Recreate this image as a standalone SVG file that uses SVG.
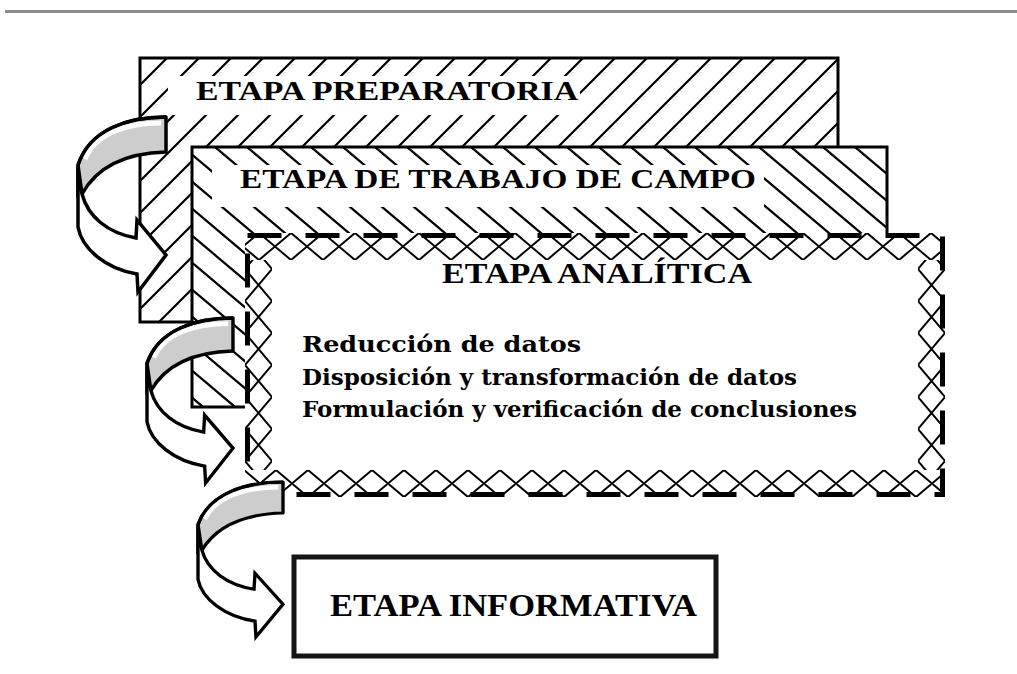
<svg xmlns="http://www.w3.org/2000/svg" width="1017" height="674" viewBox="0 0 1017 674">
<style>
  .hdr{font-family:"Liberation Serif","DejaVu Serif",serif;font-weight:bold;fill:#000}
  .body{font-family:"DejaVu Serif","Liberation Serif",serif;font-weight:bold;font-size:22px;fill:#000}
  .edge{fill:none;stroke:#000;stroke-width:3}
  .hl{stroke:#000;stroke-width:2.2;fill:none}
  .dm{stroke:#000;stroke-width:2;fill:none}
  .arrow-back{fill:#cdcdcd;stroke:#000;stroke-width:3.5;stroke-linejoin:round}
  .arrow-front{fill:#fff;stroke:#000;stroke-width:3.5;stroke-linejoin:miter}
</style>
<defs>
  <pattern id="hatch1" patternUnits="userSpaceOnUse" x="7" y="58" width="32" height="32">
    <path class="hl" d="M-4,36 L36,-4 M-4,4 L4,-4 M28,36 L36,28"/>
  </pattern>
  <pattern id="hatch2" patternUnits="userSpaceOnUse" x="23" y="147" width="32" height="27">
    <path class="hl" d="M-4,-3.375 L36,30.375 M-4,23.625 L4,30.375 M28,-3.375 L36,3.375"/>
  </pattern>
  <pattern id="dmT" patternUnits="userSpaceOnUse" x="19" y="233" width="32" height="27">
    <path class="dm" d="M-4,16.875 L20,-3.375 M12,30.375 L36,10.125 M-4,10.125 L20,30.375 M12,-3.375 L36,16.875"/>
  </pattern>
  <pattern id="dmB" patternUnits="userSpaceOnUse" x="4" y="470" width="32" height="27">
    <path class="dm" d="M-4,16.875 L20,-3.375 M12,30.375 L36,10.125 M-4,10.125 L20,30.375 M12,-3.375 L36,16.875"/>
  </pattern>
  <pattern id="dmL" patternUnits="userSpaceOnUse" x="245" y="29" width="27" height="32">
    <path class="dm" d="M16.875,-4 L-3.375,20 M30.375,12 L10.125,36 M10.125,-4 L30.375,20 M-3.375,12 L16.875,36"/>
  </pattern>
  <pattern id="dmR" patternUnits="userSpaceOnUse" x="918" y="29" width="27" height="32">
    <path class="dm" d="M16.875,-4 L-3.375,20 M30.375,12 L10.125,36 M10.125,-4 L30.375,20 M-3.375,12 L16.875,36"/>
  </pattern>
  <g id="curvedArrow">
    <path class="arrow-back" d="M88,0 C50,0 12,12 0,48 L0,80 L4,77 C20,48 50,36 88,35 Z"/>
    <path d="M83,6 C50,6 18,16 7,42" fill="none" stroke="#fff" stroke-width="5"/>
    <path d="M88,0 C50,0 12,12 0,48" fill="none" stroke="#000" stroke-width="3.5"/>
    <path class="arrow-front" d="M0,48 L0,110 C4,132 28,152 59,157 L60,175 L88,138 L59,103 L58,121 C30,116 10,100 4,77 Z"/>
  </g>
</defs>

<line x1="5" y1="11.5" x2="1017" y2="11.5" stroke="#8c8c8c" stroke-width="3"/>

<g id="node-preparatoria">
  <rect x="140" y="58" width="698" height="264" fill="#fff"/>
  <rect x="140" y="58" width="698" height="264" fill="url(#hatch1)"/>
  <rect x="168" y="76" width="412" height="39" fill="#fff"/>
  <rect class="edge" x="140" y="58" width="698" height="264"/>
  <text class="hdr" x="196" y="100" font-size="28" textLength="382" lengthAdjust="spacingAndGlyphs">ETAPA PREPARATORIA</text>
</g>

<g id="node-campo">
  <rect x="192" y="147" width="695" height="260" fill="#fff"/>
  <rect x="192" y="147" width="695" height="260" fill="url(#hatch2)"/>
  <rect x="212" y="165" width="552" height="42" fill="#fff"/>
  <rect class="edge" x="192" y="147" width="695" height="260"/>
  <text class="hdr" x="240" y="188" font-size="27" textLength="516" lengthAdjust="spacingAndGlyphs">ETAPA DE TRABAJO DE CAMPO</text>
</g>

<g id="node-analitica">
  <rect x="245" y="233" width="700" height="264" fill="#fff"/>
  <rect x="245" y="233" width="700" height="27" fill="url(#dmT)"/>
  <rect x="245" y="470" width="700" height="27" fill="url(#dmB)"/>
  <rect x="245" y="260" width="27" height="210" fill="url(#dmL)"/>
  <rect x="918" y="260" width="27" height="210" fill="url(#dmR)"/>
  <rect x="247.5" y="235.5" width="695" height="259" fill="none" stroke="#000" stroke-width="5" stroke-dasharray="34 24"/>
  <text class="hdr" x="442" y="283" font-size="30" textLength="310" lengthAdjust="spacingAndGlyphs">ETAPA ANALÍTICA</text>
  <text class="body" x="302" y="352" textLength="279" lengthAdjust="spacingAndGlyphs">Reducción de datos</text>
  <text class="body" x="302" y="385" textLength="495" lengthAdjust="spacingAndGlyphs">Disposición y transformación de datos</text>
  <text class="body" x="302" y="417" textLength="555" lengthAdjust="spacingAndGlyphs">Formulación y verificación de conclusiones</text>
</g>

<g id="node-informativa">
  <rect x="294" y="557" width="422" height="99" fill="#fff" stroke="#151515" stroke-width="5"/>
  <text class="hdr" x="330" y="616" font-size="31" textLength="367" lengthAdjust="spacingAndGlyphs">ETAPA INFORMATIVA</text>
</g>

<g id="connectors">
  <use href="#curvedArrow" transform="translate(78,117)"/>
  <use href="#curvedArrow" transform="translate(147,318) scale(0.977,0.943)"/>
  <use href="#curvedArrow" transform="translate(198,482) scale(0.966,0.886)"/>
</g>
</svg>
